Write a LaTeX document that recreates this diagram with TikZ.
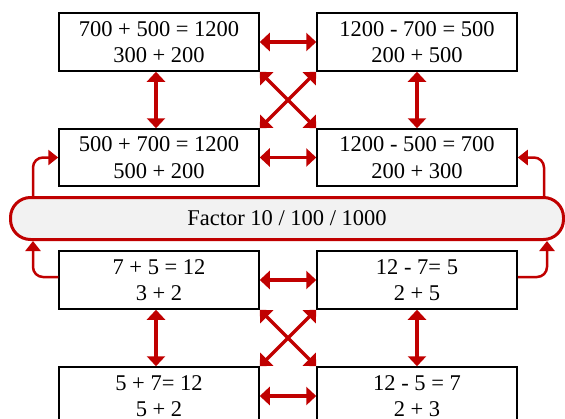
\documentclass[tikz,border=0pt]{standalone}
\usepackage{fontspec}
\setmainfont{Liberation Serif}
\usetikzlibrary{arrows.meta,calc}
\definecolor{arrred}{RGB}{192,0,0}
\definecolor{bangray}{RGB}{242,242,242}
\tikzset{
  box/.style={draw=black, line width=1.5pt, fill=white, minimum width=200pt, minimum height=58pt, align=center, inner sep=0pt,
    font=\fontsize{22.5}{26.5}\selectfont},
  banner/.style={draw=arrred, line width=3pt, fill=bangray, minimum width=553pt, minimum height=42pt, rounded corners=20pt, inner sep=0pt,
    font=\fontsize{22.5}{26.5}\selectfont},
  dbl/.style={draw=arrred, line width=3.5pt, {Triangle[width=18pt,length=10pt]}-{Triangle[width=18pt,length=10pt]}},
  bent/.style={draw=arrred, line width=2.5pt, rounded corners=10pt, -{Triangle[width=15pt,length=10pt]}}
}
\begin{document}
\begin{tikzpicture}[x=1pt,y=-1pt]
\useasboundingbox (0,0) rectangle (565,418);
\node[box] (a1) at (159,42) {700 + 500 = 1200\\300 + 200};
\node[box] (b1) at (417,42) {1200 - 700 = 500\\200 + 500};
\node[box, minimum height=57pt] (a2) at (159,157.5) {500 + 700 = 1200\\500 + 200};
\node[box, minimum height=57pt] (b2) at (417,157.5) {1200 - 500 = 700\\200 + 300};
\node[banner] (f) at (287,218.5) {Factor 10 / 100 / 1000};
\node[box] (a3) at (159,280) {7 + 5 = 12\\3 + 2};
\node[box] (b3) at (417,280) {12 - 7= 5\\2 + 5};
\node[box] (a4) at (159,396) {5 + 7= 12\\5 + 2};
\node[box] (b4) at (417,396) {12 - 5 = 7\\2 + 3};
% upper block arrows
\draw[dbl] (a1.east) -- (b1.west);
\draw[dbl] (a2.east) -- (b2.west);
\draw[dbl] ([xshift=-3pt]a1.south) -- ([xshift=-3pt]a2.north);
\draw[dbl] (b1.south) -- (b2.north);
\draw[dbl] (a1.south east) -- (b2.north west);
\draw[dbl] (b1.south west) -- (a2.north east);
% lower block arrows
\draw[dbl] (a3.east) -- (b3.west);
\draw[dbl] (a4.east) -- (b4.west);
\draw[dbl] ([xshift=-3pt]a3.south) -- ([xshift=-3pt]a4.north);
\draw[dbl] (b3.south) -- (b4.north);
\draw[dbl] (a3.south east) -- (b4.north west);
\draw[dbl] (b3.south west) -- (a4.north east);
% bent connectors
\coordinate (lx) at (33,0);
\coordinate (rx1) at (544,0);
\coordinate (rx2) at (547,0);
\draw[bent] (f.north -| lx) |- (a2.west);
\draw[bent] (f.north -| rx1) |- (b2.east);
\draw[bent] ([yshift=3pt]a3.west) -| (f.south -| lx);
\draw[bent] ([yshift=3pt]b3.east) -| (f.south -| rx2);
\end{tikzpicture}
\end{document}
